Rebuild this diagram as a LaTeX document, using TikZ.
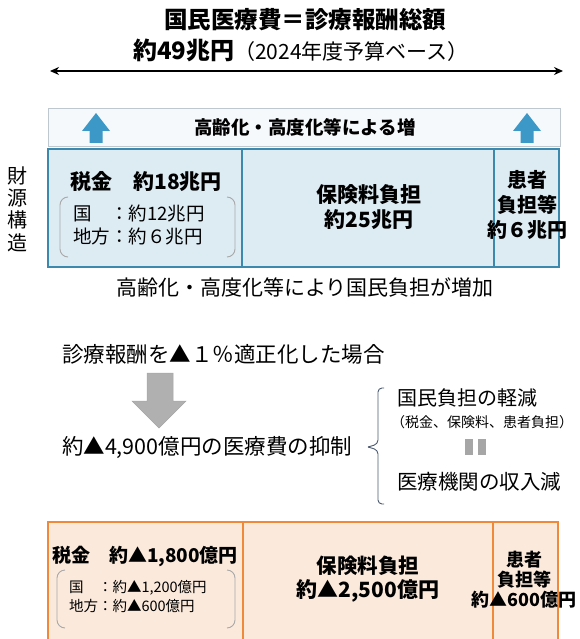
\documentclass[tikz,border=0pt]{standalone}
\usepackage{fontspec}
\setmainfont{Noto Sans CJK JP}
\usetikzlibrary{arrows.meta}
\definecolor{blueF}{HTML}{DDEBF3}
\definecolor{blueD}{HTML}{3B8AAE}
\definecolor{arrowB}{HTML}{3C98C6}
\definecolor{bandF}{HTML}{F6F9FB}
\definecolor{bandD}{HTML}{BFC7CF}
\definecolor{orF}{HTML}{FBEADC}
\definecolor{orD}{HTML}{F08A3A}
\definecolor{parC}{HTML}{A8A8A8}
\definecolor{braceC}{HTML}{4A5A70}
\newcommand{\fs}[1]{\fontsize{#1}{#1}\selectfont}
\begin{document}
\begin{tikzpicture}[x=1pt,y=-1pt,
  txt/.style={inner sep=0pt, outer sep=0pt, text=black},
  bluebox/.style={fill=blueF, draw=blueD, line width=2.5pt},
  orbox/.style={fill=orF, draw=orD, line width=2.5pt},
  bluediv/.style={draw=blueD, line width=2.5pt},
  ordiv/.style={draw=orD, line width=2.5pt},
  paren/.style={draw=parC, line width=0.9pt, rounded corners=8pt},
  uparrow/.style={fill=arrowB, draw=none}]
\useasboundingbox (0,0) rectangle (579,639);
\clip (0,0) rectangle (579,639);

% title
\node[txt] (t1) at (305,20) {\fs{23.5}\bfseries 国民医療費＝診療報酬総額};
\node[txt] (t2) at (301,50) {\fs{24}\bfseries 約49兆円\fs{21}\mdseries（2024年度予算ベース）};
\coordinate (aL) at (50,71);
\coordinate (aR) at (563,71);
\draw[line width=1.4pt, {Stealth[length=9pt,width=8pt]}-{Stealth[length=9pt,width=8pt]}] (aL) -- (aR);

% band
\node[draw=bandD, fill=bandF, line width=0.8pt, minimum width=512pt, minimum height=38pt, inner sep=0pt] (band) at (304,127) {};
\node[txt] (bandt) at (305,127) {\fs{18.5}\bfseries 高齢化・高度化等による増};
\fill[uparrow] (82,131) -- (96,113) -- (110,131) -- (102.5,131) -- (102.5,143) -- (89.5,143) -- (89.5,131) -- cycle;
\fill[uparrow] (513,131) -- (527,113) -- (541,131) -- (533.5,131) -- (533.5,143) -- (520.5,143) -- (520.5,131) -- cycle;

% blue structure
\draw[bluebox] (48,149) rectangle (559,267);
\draw[bluediv] (242,149) -- (242,267);
\draw[bluediv] (494,149) -- (494,267);
\node[txt] (ve) at (18,209) {\fs{20}\shortstack{財\\[1pt]源\\[1pt]構\\[1pt]造}};
\node[txt] (tax) at (146,182) {\fs{21}\bfseries 税金　約18兆円};
\draw[paren] (68,197) -- (60,197) -- (60,257) -- (68,257);
\draw[paren] (227,197) -- (235,197) -- (235,257) -- (227,257);
\node[txt, anchor=west] (kuni) at (73,214) {\fs{18.5}国　：約12兆円};
\node[txt, anchor=west] (chiho) at (73,236) {\fs{18.5}地方：約６兆円};
\node[txt] (hoken1) at (369,195) {\fs{21}\bfseries 保険料負担};
\node[txt] (hoken2) at (369,220) {\fs{21}\bfseries 約25兆円};
\node[txt] (kan1) at (527,180) {\fs{20}\bfseries 患者};
\node[txt] (kan2) at (527,205) {\fs{20}\bfseries 負担等};
\node[txt] (kan3) at (527,230) {\fs{20}\bfseries 約６兆円};
\node[txt] (inc) at (305,287) {\fs{21}高齢化・高度化等により国民負担が増加};

% middle section
\node[txt, anchor=west] (kaitei) at (62,354) {\fs{21.5}診療報酬を▲１％適正化した場合};
\fill[fill=gray!62, draw=gray!70, line width=0.5pt] (147,373) -- (173,373) -- (173,401) -- (186,401) -- (159,428) -- (132,401) -- (147,401) -- cycle;
\node[txt, anchor=west] (yokusei) at (62,447) {\fs{21.5}約▲4,900億円の医療費の抑制};
\coordinate (bT) at (384,388);
\coordinate (bM) at (368,447);
\coordinate (bB) at (384,504);
\draw[braceC, line width=0.9pt, rounded corners=4pt] (bT) -- (378,388) -- (378,444) -- (bM);
\draw[braceC, line width=0.9pt, rounded corners=4pt] (bM) -- (378,450) -- (378,504) -- (bB);
\node[txt, anchor=west] (keigen) at (397,398) {\fs{20}国民負担の軽減};
\node[txt, anchor=west] (keigen2) at (391,422) {\fs{14}（税金、保険料、患者負担）};
\fill[gray!70] (465,439) rectangle (473,455);
\fill[gray!70] (478,439) rectangle (486,455);
\node[txt, anchor=west] (shunyu) at (397,482) {\fs{20.5}医療機関の収入減};

% orange structure
\draw[orbox] (48,522) rectangle (558,650);
\draw[ordiv] (243,522) -- (243,650);
\draw[ordiv] (493,522) -- (493,650);
\node[txt] (otax) at (145,556) {\fs{19}\bfseries 税金　約▲1,800億円};
\draw[paren] (65,570) -- (57,570) -- (57,628) -- (65,628);
\draw[paren] (227,570) -- (235,570) -- (235,628) -- (227,628);
\node[txt, anchor=west] (okuni) at (69,588) {\fs{14.5}国　：約▲1,200億円};
\node[txt, anchor=west] (ochiho) at (69,606) {\fs{14.5}地方：約▲600億円};
\node[txt] (ohoken1) at (368,566) {\fs{20.5}\bfseries 保険料負担};
\node[txt] (ohoken2) at (368,591) {\fs{21}\bfseries 約▲2,500億円};
\node[txt] (okan1) at (524,560) {\fs{18}\bfseries 患者};
\node[txt] (okan2) at (524,580) {\fs{18}\bfseries 負担等};
\node[txt] (okan3) at (524,600) {\fs{18}\bfseries 約▲600億円};
\end{tikzpicture}
\end{document}
